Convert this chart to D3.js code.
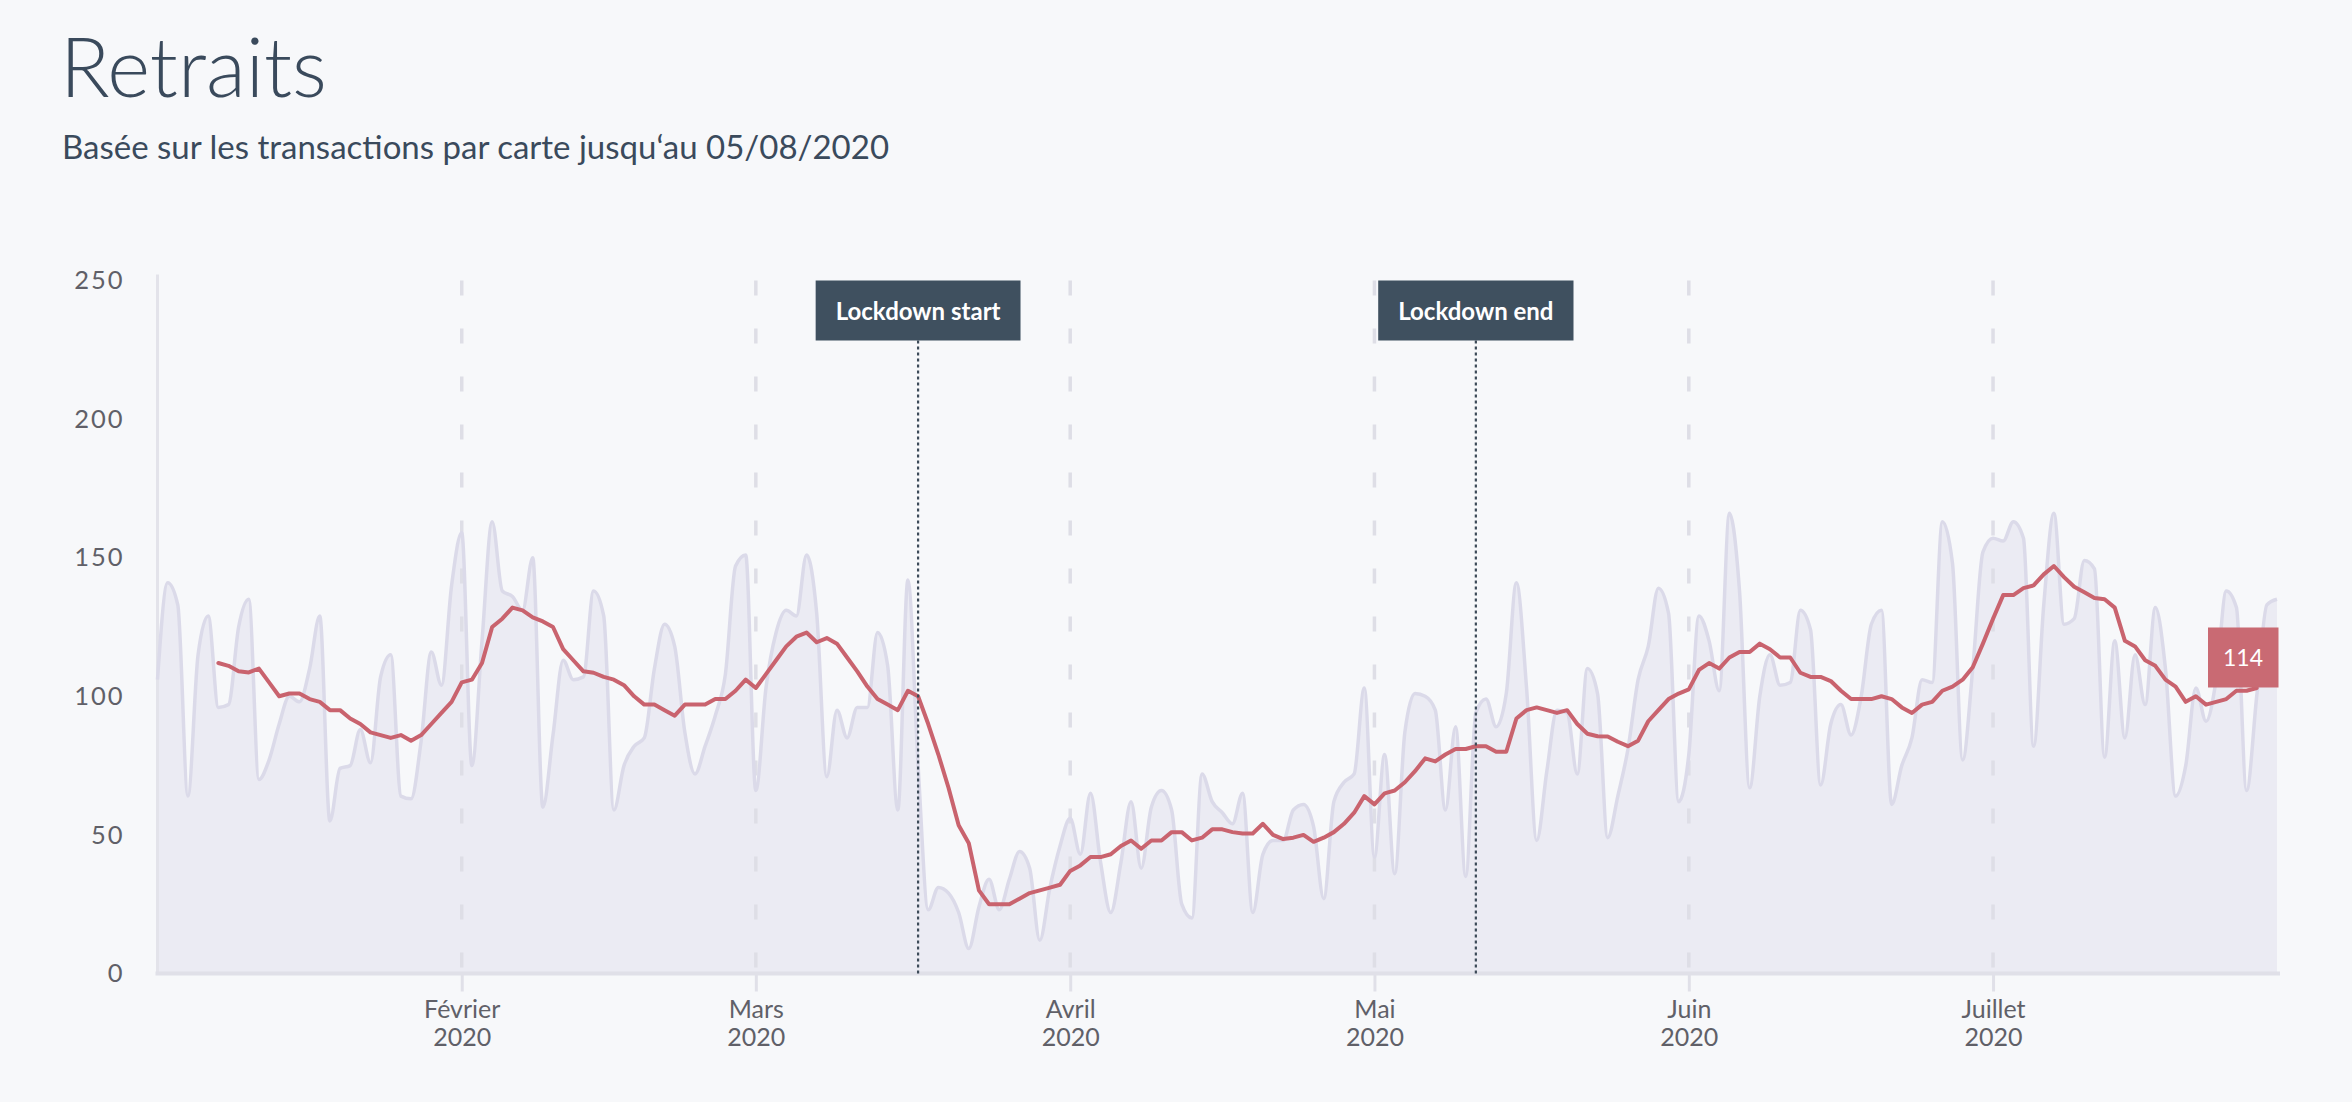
<!DOCTYPE html>
<html>
<head>
<meta charset="utf-8">
<script src="https://cdn.jsdelivr.net/npm/d3@7"></script>
<style>
  html, body { margin: 0; padding: 0; background: #f7f8fa; }
  svg { display: block; }
</style>
</head>
<body>
<div id="chart"></div>
<script>
// ---------- DATA ----------
const startDate = "2020-01-02";
const rawValues = [
  106,141,133,64,115,129,96,97,125,135,
  70,77,90,100,98,110,129,55,74,75,
  88,76,107,115,64,63,84,116,104,140,
  159,75,120,163,138,136,131,150,60,86,
  113,106,107,138,129,59,75,82,85,110,
  126,118,87,72,82,93,108,147,151,66,
  103,123,131,129,151,130,71,95,85,96,
  96,123,111,59,142,75,23,31,29,22,
  9,24,34,23,34,44,38,12,31,46,
  56,43,65,40,22,40,62,38,60,66,
  59,25,20,72,62,58,54,65,22,43,
  48,48,59,61,53,27,62,69,72,103,
  42,79,36,87,101,100,95,59,89,35,
  94,99,89,101,141,103,48,73,95,94,
  72,110,101,49,64,81,106,118,139,130,
  62,79,129,120,102,166,138,67,100,115,
  104,105,131,124,68,90,97,86,100,126,
  131,61,75,85,106,105,163,148,77,110,
  152,157,156,163,157,82,133,166,126,128,
  149,146,78,120,85,115,97,132,110,64,
  75,103,91,106,138,132,66,100,133,135
];
const avgStartOffset = 6; // moving average begins on the 7th day
const avgValues = [
  112,111,109,108.6,110,105,100,101,101,99,
  98,95,95,92,90,87,86,85,86,84,
  86,90,94,98,105,106,112,125,128,132,
  131,128.5,127,125,117,113,109,108.5,107,106,
  104,100,97,97,95,93,97,97,97,99,
  99,102,106,103,108,113,118,121.5,123,119.5,
  121,119,114,109,103.5,99,97,95,102,100,
  90,79,67,53.5,47,30,25,25,25,27,
  29,30,31,32,37,39,42,42,43,46,
  48,45,48,48,51,51,48,49,52,52,
  51,50.5,50.5,54,50,48.5,49,50,47.5,49,
  51,54,58,64,61,65,66,69,73,77.6,
  76.5,79,81,81,82,82,80,80,92,95,
  96,95,94,95,90,86.5,85.6,85.5,83.6,82,
  84,91,95,99,101,102.5,109.5,112,110,114,
  116,116,119,117,114,114,108.5,107,107,105.5,
  102,99,99,99,100,99,96,94,97,98,
  102,103.5,106,110.5,119,128,136.5,136.5,139,140,
  144,147,143,139.5,137.5,135.5,135,132,120,118,
  113,111,106,103.5,98,100,97,98,99,102,
  102,103
];
const monthTickDates = ["2020-02-01","2020-03-01","2020-04-01","2020-05-01","2020-06-01","2020-07-01"];
const monthTickLabels = ["Février","Mars","Avril","Mai","Juin","Juillet"];
const yearTickLabel = "2020";
const yTicks = [0, 50, 100, 150, 200, 250];
const eventDates = ["2020-03-17", "2020-05-11"];
const eventLabels = ["Lockdown start", "Lockdown end"];
const lastValueLabel = 114;
const titleText = "Retraits";
const subtitleText = "Basée sur les transactions par carte jusqu‘au 05/08/2020";

// ---------- SETUP ----------
const W = 2352, H = 1102;
const parse = d3.timeParse("%Y-%m-%d");
const start = parse(startDate);
const rawData = rawValues.map((v, i) => ({ date: d3.timeDay.offset(start, i), value: v }));
const avgData = avgValues.map((v, i) => ({ date: d3.timeDay.offset(start, i + avgStartOffset), value: v }));

const plot = { left: 157.5, right: 2277, top: 280.5, bottom: 973.5 };

const x = d3.scaleTime()
  .domain([rawData[0].date, rawData[rawData.length - 1].date])
  .range([plot.left, plot.right]);
const y = d3.scaleLinear().domain([0, 250]).range([plot.bottom, plot.top]);

const svg = d3.select("#chart").append("svg")
  .attr("width", W).attr("height", H)
  .style("background", "#f7f8fa");

// Title
svg.append("text")
  .attr("x", 60).attr("y", 97)
  .attr("font-family", "Lato, sans-serif")
  .attr("font-weight", 300)
  .attr("font-size", 82)
  .attr("fill", "#3a4a5c")
  .text(titleText);

svg.append("text")
  .attr("x", 62).attr("y", 159)
  .attr("font-family", "Lato, sans-serif")
  .attr("font-weight", 400)
  .attr("font-size", 33)
  .attr("fill", "#3a4a5c")
  .text(subtitleText);

// Area
const area = d3.area()
  .x(d => x(d.date)).y0(y(0)).y1(d => y(d.value))
  .curve(d3.curveMonotoneX);
svg.append("path").datum(rawData)
  .attr("d", area)
  .attr("fill", "#ebebf3");

// Y axis
const yAxis = d3.axisLeft(y).tickValues(yTicks).tickSize(0).tickPadding(33);
const gy = svg.append("g").attr("transform", `translate(${plot.left},0)`).call(yAxis);
gy.select(".domain").attr("stroke", "#e3e3ea").attr("stroke-width", 3)
  .attr("d", `M0,${y(250) - 6}V${y(0)}`);
gy.selectAll("text")
  .attr("font-family", "Lato, sans-serif")
  .attr("font-size", 25.5)
  .attr("letter-spacing", 2)
  .attr("fill", "#606068");

// Month gridlines (dashed)
const monthDates = monthTickDates.map(parse);
svg.append("g").selectAll("line").data(monthDates).join("line")
  .attr("x1", d => x(d)).attr("x2", d => x(d))
  .attr("y1", y(250)).attr("y2", y(0))
  .attr("stroke", "#dedee6")
  .attr("stroke-width", 3.5)
  .attr("stroke-dasharray", "15 33");

// X axis
const xAxis = d3.axisBottom(x).tickValues(monthDates).tickSize(18).tickFormat(() => "");
const gx = svg.append("g").attr("transform", `translate(0,${y(0)})`).call(xAxis);
gx.select(".domain").attr("stroke", "#e0e0e8").attr("stroke-width", 4)
  .attr("d", `M${plot.left - 2},0H${plot.right + 3}`);
gx.selectAll(".tick line").attr("stroke", "#e0e0e8").attr("stroke-width", 3);
gx.selectAll(".tick").each(function (d, i) {
  const t = d3.select(this);
  t.append("text").attr("y", 44).attr("text-anchor", "middle")
    .attr("font-family", "Lato, sans-serif").attr("font-size", 25)
    .attr("fill", "#606068").text(monthTickLabels[i]);
  t.append("text").attr("y", 72).attr("text-anchor", "middle")
    .attr("font-family", "Lato, sans-serif").attr("font-size", 25)
    .attr("fill", "#606068").text(yearTickLabel);
});

// Raw line
const rawLine = d3.line().x(d => x(d.date)).y(d => y(d.value)).curve(d3.curveMonotoneX);
svg.append("path").datum(rawData)
  .attr("d", rawLine)
  .attr("fill", "none")
  .attr("stroke", "#dbdae9")
  .attr("stroke-width", 3.5);

// Moving average line
const avgLine = d3.line().x(d => x(d.date)).y(d => y(d.value));
svg.append("path").datum(avgData)
  .attr("d", avgLine)
  .attr("fill", "none")
  .attr("stroke", "#c9636e")
  .attr("stroke-width", 4)
  .attr("stroke-linejoin", "round")
  .attr("stroke-linecap", "round");

// Events
const boxH = 60;
eventDates.forEach((ds, i) => {
  const ex = x(parse(ds));
  const g = svg.append("g");
  g.append("line")
    .attr("x1", ex).attr("x2", ex)
    .attr("y1", y(250) + boxH).attr("y2", y(0))
    .attr("stroke", "#3c4a58").attr("stroke-width", 2.2)
    .attr("stroke-dasharray", "3 3");
  const rect = g.append("rect").attr("fill", "#3f505f");
  const txt = g.append("text")
    .attr("x", ex).attr("y", y(250) + boxH / 2)
    .attr("text-anchor", "middle").attr("dominant-baseline", "central")
    .attr("font-family", "Lato, sans-serif").attr("font-weight", 700)
    .attr("font-size", 24).attr("fill", "#ffffff")
    .text(eventLabels[i]);
  const w = txt.node().getComputedTextLength() + 40;
  rect.attr("x", ex - w / 2).attr("y", y(250)).attr("width", w).attr("height", boxH);
});

// Last value label
const lg = svg.append("g");
lg.append("rect")
  .attr("x", plot.right - 69).attr("y", y(lastValueLabel) - 30)
  .attr("width", 70.5).attr("height", 60)
  .attr("fill", "#c96a73");
lg.append("text")
  .attr("x", plot.right - 34).attr("y", y(lastValueLabel))
  .attr("text-anchor", "middle").attr("dominant-baseline", "central")
  .attr("font-family", "Lato, sans-serif").attr("font-size", 23)
  .attr("fill", "#ffffff")
  .text(lastValueLabel);
</script>
</body>
</html>
